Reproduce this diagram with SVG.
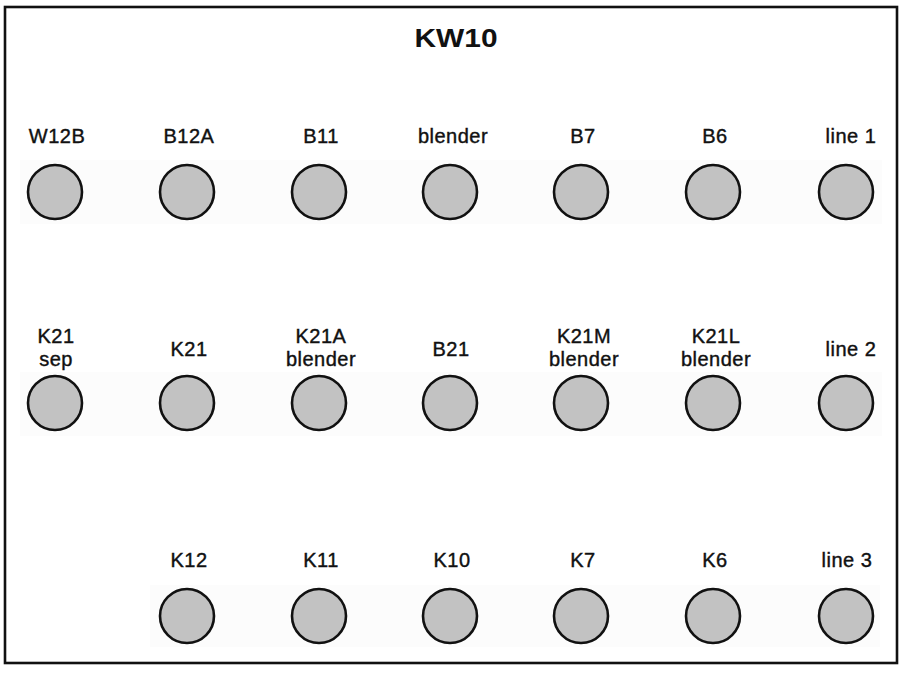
<svg xmlns="http://www.w3.org/2000/svg" width="902" height="673" viewBox="0 0 902 673">
<style>
.lbl{font-family:"Liberation Sans",Arial,sans-serif;font-size:20px;letter-spacing:0.5px;text-anchor:middle;fill:#111;stroke:#111;stroke-width:0.4}
.ttl{font-family:"Liberation Sans",Arial,sans-serif;font-size:25px;font-weight:bold;text-anchor:middle;fill:#111}
.c{fill:#c2c2c2;stroke:#111;stroke-width:2.6}
.band{fill:#fcfcfc}
</style>
<rect x="0" y="0" width="902" height="673" fill="#fff"/>
<rect x="5" y="7" width="892" height="656" fill="none" stroke="#111" stroke-width="2.6"/>
<rect class="band" x="20" y="160" width="862" height="64"/>
<rect class="band" x="20" y="372" width="862" height="64"/>
<rect class="band" x="150" y="585" width="730" height="62"/>
<text class="ttl" x="456" y="47" textLength="83" lengthAdjust="spacingAndGlyphs">KW10</text>
<g id="connectors"></g>
<g id="W12B"><circle class="c" cx="55" cy="192" r="27"/><text class="lbl" x="57" y="143">W12B</text></g>
<g id="B12A"><circle class="c" cx="187" cy="192" r="27"/><text class="lbl" x="189" y="143">B12A</text></g>
<g id="B11"><circle class="c" cx="319" cy="192" r="27"/><text class="lbl" x="321" y="143">B11</text></g>
<g id="blender"><circle class="c" cx="450" cy="192" r="27"/><text class="lbl" x="453" y="143">blender</text></g>
<g id="B7"><circle class="c" cx="581" cy="192" r="27"/><text class="lbl" x="583" y="143">B7</text></g>
<g id="B6"><circle class="c" cx="713" cy="192" r="27"/><text class="lbl" x="715" y="143">B6</text></g>
<g id="line1"><circle class="c" cx="846" cy="192" r="27"/><text class="lbl" x="851" y="143">line 1</text></g>
<g id="K21sep"><circle class="c" cx="55" cy="403" r="27"/><text class="lbl" x="56" y="343">K21</text><text class="lbl" x="56" y="366">sep</text></g>
<g id="K21"><circle class="c" cx="187" cy="403" r="27"/><text class="lbl" x="189" y="356">K21</text></g>
<g id="K21Ablender"><circle class="c" cx="319" cy="403" r="27"/><text class="lbl" x="321" y="343">K21A</text><text class="lbl" x="321" y="366">blender</text></g>
<g id="B21"><circle class="c" cx="450" cy="403" r="27"/><text class="lbl" x="451" y="356">B21</text></g>
<g id="K21Mblender"><circle class="c" cx="581" cy="403" r="27"/><text class="lbl" x="584" y="343">K21M</text><text class="lbl" x="584" y="366">blender</text></g>
<g id="K21Lblender"><circle class="c" cx="713" cy="403" r="27"/><text class="lbl" x="716" y="343">K21L</text><text class="lbl" x="716" y="366">blender</text></g>
<g id="line2"><circle class="c" cx="846" cy="403" r="27"/><text class="lbl" x="851" y="356">line 2</text></g>
<g id="K12"><circle class="c" cx="187" cy="616" r="27"/><text class="lbl" x="189" y="567">K12</text></g>
<g id="K11"><circle class="c" cx="319" cy="616" r="27"/><text class="lbl" x="321" y="567">K11</text></g>
<g id="K10"><circle class="c" cx="450" cy="616" r="27"/><text class="lbl" x="452" y="567">K10</text></g>
<g id="K7"><circle class="c" cx="581" cy="616" r="27"/><text class="lbl" x="583" y="567">K7</text></g>
<g id="K6"><circle class="c" cx="713" cy="616" r="27"/><text class="lbl" x="715" y="567">K6</text></g>
<g id="line3"><circle class="c" cx="846" cy="616" r="27"/><text class="lbl" x="847" y="567">line 3</text></g>
</svg>
